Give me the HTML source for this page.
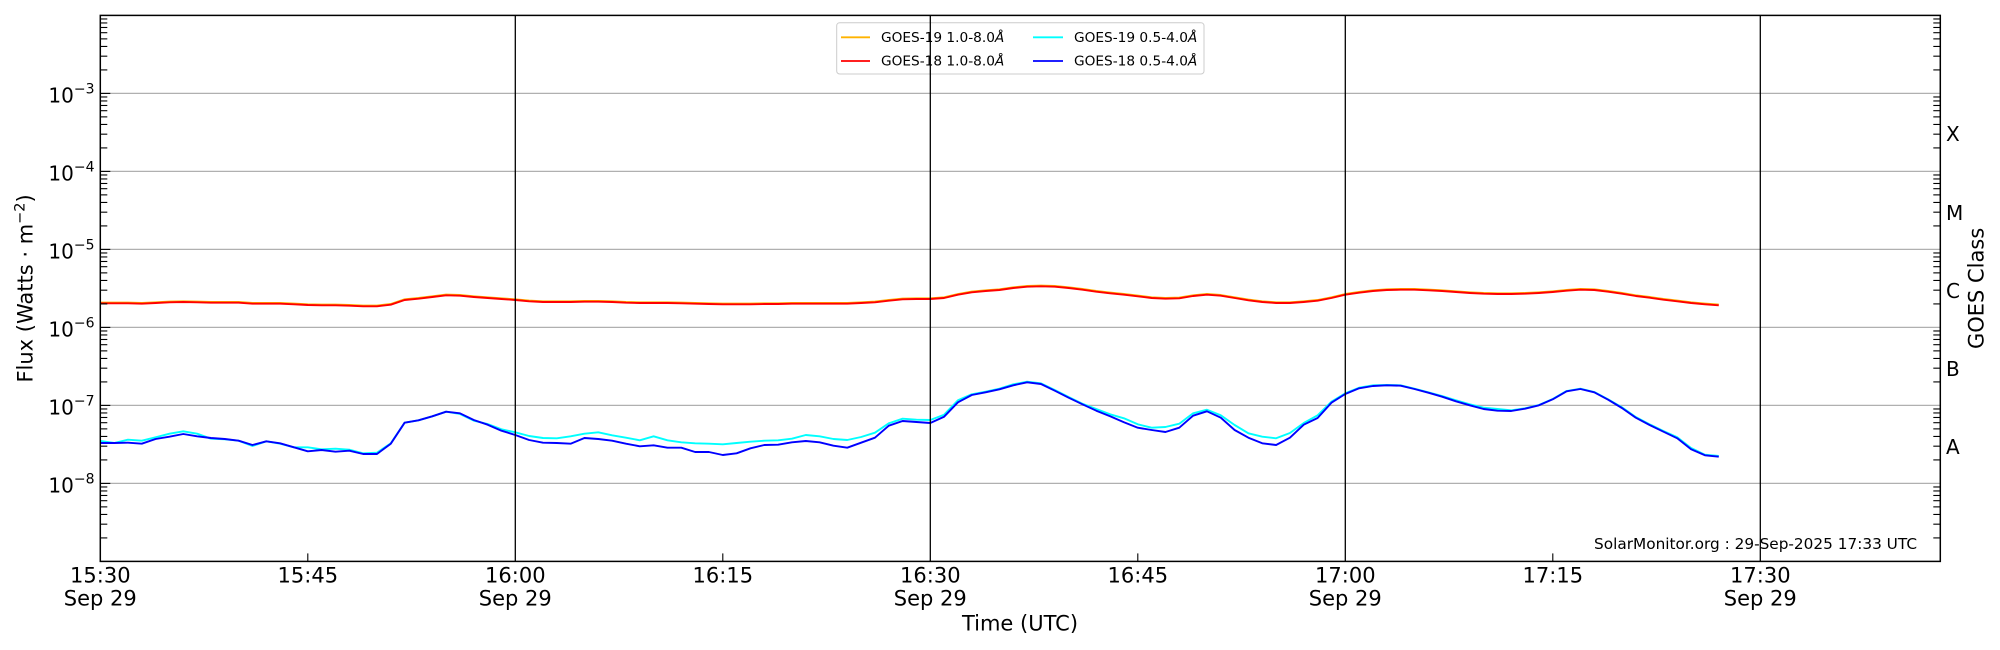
<!DOCTYPE html>
<html>
<head>
<meta charset="utf-8">
<style>
  html,body{margin:0;padding:0;background:#fff;}
  svg{display:block;}
  text{font-family:"DejaVu Sans","Liberation Sans",sans-serif;fill:#000;}
</style>
</head>
<body>
<svg width="2000" height="650" viewBox="0 0 2000 650" xmlns="http://www.w3.org/2000/svg">
  <defs>
    <g id="minL">
      <line x1="0" x2="7" y1="-23.48" y2="-23.48"/>
      <line x1="0" x2="7" y1="-37.22" y2="-37.22"/>
      <line x1="0" x2="7" y1="-46.96" y2="-46.96"/>
      <line x1="0" x2="7" y1="-54.52" y2="-54.52"/>
      <line x1="0" x2="7" y1="-60.70" y2="-60.70"/>
      <line x1="0" x2="7" y1="-65.92" y2="-65.92"/>
      <line x1="0" x2="7" y1="-70.44" y2="-70.44"/>
      <line x1="0" x2="7" y1="-74.43" y2="-74.43"/>
    </g>
  </defs>

  <rect x="0" y="0" width="2000" height="650" fill="#fff"/>

  <!-- gridlines -->
  <g stroke="#b0b0b0" stroke-width="1.2">
    <line x1="100.3" x2="1940.3" y1="93.4" y2="93.4"/>
    <line x1="100.3" x2="1940.3" y1="171.4" y2="171.4"/>
    <line x1="100.3" x2="1940.3" y1="249.4" y2="249.4"/>
    <line x1="100.3" x2="1940.3" y1="327.4" y2="327.4"/>
    <line x1="100.3" x2="1940.3" y1="405.4" y2="405.4"/>
    <line x1="100.3" x2="1940.3" y1="483.4" y2="483.4"/>
  </g>

  <!-- data series -->
  <g transform="translate(100.3,0) scale(13.833,1)" fill="none" stroke-linejoin="round">
    <polyline stroke="#ffb300" stroke-width="1.9" vector-effect="non-scaling-stroke" transform="translate(0,-0.7)"
      points="0,303.3 1,303.3 2,303.3 3,303.7 4,303.0 5,302.3 6,302.0 7,302.3 8,302.7 9,302.7 10,302.7 11,303.7 12,303.7 13,303.7 14,304.3 15,305.0 16,305.3 17,305.3 18,305.7 19,306.3 20,306.3 21,304.7 22,300.0 23,298.7 24,297.0 25,295.3 26,295.7 27,297.0 28,298.0 29,299.0 30,300.0 31,301.3 32,302.0 33,302.0 34,302.0 35,301.7 36,301.7 37,302.0 38,302.7 39,303.0 40,303.0 41,303.0 42,303.3 43,303.7 44,304.0 45,304.3 46,304.3 47,304.3 48,304.0 49,304.0 50,303.7 51,303.7 52,303.7 53,303.7 54,303.7 55,303.0 56,302.3 57,300.7 58,299.3 59,299.0 60,299.0 61,298.0 62,294.7 63,292.3 64,291.0 65,290.0 66,288.0 67,286.7 68,286.3 69,286.7 70,288.0 71,289.7 72,291.7 73,293.3 74,294.7 75,296.3 76,298.0 77,298.7 78,298.3 79,296.0 80,294.7 81,295.7 82,298.0 83,300.3 84,302.0 85,303.0 86,303.0 87,302.0 88,300.7 89,298.0 90,294.7 91,292.7 92,291.0 93,290.0 94,289.7 95,289.7 96,290.3 97,291.0 98,292.0 99,293.0 100,293.7 101,294.0 102,294.0 103,293.7 104,293.0 105,292.0 106,290.7 107,289.7 108,290.0 109,291.7 110,293.7 111,296.0 112,297.7 113,299.7 114,301.3 115,303.0 116,304.3 117,305.3"/>
    <polyline stroke="#ff0000" stroke-width="1.9" vector-effect="non-scaling-stroke"
      points="0,303.3 1,303.3 2,303.3 3,303.7 4,303.0 5,302.3 6,302.0 7,302.3 8,302.7 9,302.7 10,302.7 11,303.7 12,303.7 13,303.7 14,304.3 15,305.0 16,305.3 17,305.3 18,305.7 19,306.3 20,306.3 21,304.7 22,300.0 23,298.7 24,297.0 25,295.3 26,295.7 27,297.0 28,298.0 29,299.0 30,300.0 31,301.3 32,302.0 33,302.0 34,302.0 35,301.7 36,301.7 37,302.0 38,302.7 39,303.0 40,303.0 41,303.0 42,303.3 43,303.7 44,304.0 45,304.3 46,304.3 47,304.3 48,304.0 49,304.0 50,303.7 51,303.7 52,303.7 53,303.7 54,303.7 55,303.0 56,302.3 57,300.7 58,299.3 59,299.0 60,299.0 61,298.0 62,294.7 63,292.3 64,291.0 65,290.0 66,288.0 67,286.7 68,286.3 69,286.7 70,288.0 71,289.7 72,291.7 73,293.3 74,294.7 75,296.3 76,298.0 77,298.7 78,298.3 79,296.0 80,294.7 81,295.7 82,298.0 83,300.3 84,302.0 85,303.0 86,303.0 87,302.0 88,300.7 89,298.0 90,294.7 91,292.7 92,291.0 93,290.0 94,289.7 95,289.7 96,290.3 97,291.0 98,292.0 99,293.0 100,293.7 101,294.0 102,294.0 103,293.7 104,293.0 105,292.0 106,290.7 107,289.7 108,290.0 109,291.7 110,293.7 111,296.0 112,297.7 113,299.7 114,301.3 115,303.0 116,304.3 117,305.3"/>
    <polyline stroke="#00ffff" stroke-width="1.9" vector-effect="non-scaling-stroke"
      points="0,441.0 1,443.0 2,439.7 3,440.7 4,437.3 5,433.7 6,431.3 7,433.7 8,438.7 9,439.3 10,440.7 11,446.0 12,441.3 13,443.7 14,447.3 15,447.3 16,449.3 17,448.7 18,449.7 19,453.3 20,452.7 21,443.3 22,422.7 23,420.3 24,416.3 25,411.7 26,414.0 27,420.7 28,424.0 29,429.3 30,432.3 31,436.0 32,438.0 33,438.3 34,436.3 35,433.7 36,432.3 37,435.3 38,437.7 39,440.3 40,436.3 41,440.3 42,442.3 43,443.3 44,443.7 45,444.3 46,443.0 47,441.7 48,440.7 49,440.3 50,438.7 51,435.0 52,436.3 53,439.0 54,440.0 55,437.0 56,432.7 57,423.3 58,418.7 59,419.7 60,420.0 61,414.7 62,400.3 63,394.3 64,391.7 65,388.7 66,384.3 67,381.7 68,383.3 69,390.0 70,397.0 71,403.7 72,409.0 73,414.3 74,418.3 75,424.3 76,427.7 77,427.0 78,423.7 79,413.3 80,409.7 81,415.3 82,425.0 83,433.3 84,436.7 85,438.3 86,433.0 87,423.0 88,415.3 89,401.7 90,393.3 91,387.7 92,385.3 93,385.0 94,385.3 95,388.7 96,392.3 97,396.0 98,400.3 99,404.3 100,407.7 101,409.0 102,410.3 103,408.3 104,405.0 105,399.0 106,391.0 107,388.7 108,392.0 109,399.3 110,407.3 111,417.0 112,424.3 113,431.0 114,437.3 115,448.0 116,454.7 117,456.0"/>
    <polyline stroke="#0000ff" stroke-width="1.9" vector-effect="non-scaling-stroke"
      points="0,443.0 1,443.0 2,442.7 3,443.7 4,439.0 5,436.7 6,434.0 7,436.3 8,438.0 9,439.0 10,440.7 11,445.0 12,441.3 13,443.3 14,447.3 15,451.3 16,450.0 17,451.7 18,450.7 19,454.0 20,454.0 21,443.7 22,422.7 23,420.3 24,416.3 25,411.7 26,413.3 27,420.0 28,424.7 29,430.7 30,435.0 31,440.0 32,442.7 33,443.0 34,443.7 35,438.0 36,439.0 37,440.7 38,443.7 39,446.3 40,445.3 41,447.7 42,447.7 43,452.0 44,452.0 45,455.0 46,453.3 47,448.3 48,445.0 49,444.7 50,442.3 51,441.0 52,442.3 53,445.7 54,447.7 55,442.7 56,437.7 57,425.7 58,421.0 59,422.0 60,423.0 61,416.7 62,402.3 63,395.0 64,392.3 65,389.3 66,385.3 67,382.3 68,384.0 69,390.7 70,397.7 71,404.3 72,410.7 73,416.3 74,422.3 75,427.7 76,430.0 77,432.0 78,427.7 79,415.7 80,411.3 81,417.7 82,430.0 83,437.7 84,443.3 85,445.0 86,437.7 87,424.7 88,418.0 89,402.7 90,394.0 91,388.3 92,386.0 93,385.3 94,385.7 95,389.0 96,392.7 97,396.7 98,401.3 99,405.3 100,409.0 101,410.7 102,411.0 103,408.7 104,405.3 105,399.3 106,391.3 107,389.0 108,392.3 109,399.7 110,408.0 111,417.7 112,425.0 113,431.7 114,438.3 115,449.3 116,455.3 117,456.7"/>
  </g>

  <!-- legend -->
  <rect x="836.7" y="22.7" width="367.3" height="51.3" rx="3" ry="3" fill="#fff" fill-opacity="0.8" stroke="#cccccc" stroke-width="1"/>
  <line x1="841" x2="870" y1="37.3" y2="37.3" stroke="#ffb300" stroke-width="1.8"/>
  <line x1="841" x2="870" y1="61" y2="61" stroke="#ff0000" stroke-width="1.8"/>
  <line x1="1033" x2="1063" y1="37.3" y2="37.3" stroke="#00ffff" stroke-width="1.8"/>
  <line x1="1033" x2="1063" y1="61" y2="61" stroke="#0000ff" stroke-width="1.8"/>
  <g font-size="13.7">
    <text x="881" y="41.8">GOES-19 1.0-8.0<tspan font-style="italic">Å</tspan></text>
    <text x="881" y="65.3">GOES-18 1.0-8.0<tspan font-style="italic">Å</tspan></text>
    <text x="1074" y="41.8">GOES-19 0.5-4.0<tspan font-style="italic">Å</tspan></text>
    <text x="1074" y="65.3">GOES-18 0.5-4.0<tspan font-style="italic">Å</tspan></text>
  </g>

  <!-- vertical lines -->
  <g stroke="#000" stroke-width="1.3">
    <line x1="515.3" x2="515.3" y1="15.4" y2="561.4"/>
    <line x1="930.3" x2="930.3" y1="15.4" y2="561.4"/>
    <line x1="1345.3" x2="1345.3" y1="15.4" y2="561.4"/>
    <line x1="1760.3" x2="1760.3" y1="15.4" y2="561.4"/>
  </g>

  <!-- ticks -->
  <g stroke="#000" stroke-width="1.1">
    <use href="#minL" transform="translate(100.3,93.4)"/>
    <use href="#minL" transform="translate(100.3,171.4)"/>
    <use href="#minL" transform="translate(100.3,249.4)"/>
    <use href="#minL" transform="translate(100.3,327.4)"/>
    <use href="#minL" transform="translate(100.3,405.4)"/>
    <use href="#minL" transform="translate(100.3,483.4)"/>
    <use href="#minL" transform="translate(100.3,561.4)"/>
    <use href="#minL" transform="translate(1940.3,93.4) scale(-1,1)"/>
    <use href="#minL" transform="translate(1940.3,171.4) scale(-1,1)"/>
    <use href="#minL" transform="translate(1940.3,249.4) scale(-1,1)"/>
    <use href="#minL" transform="translate(1940.3,327.4) scale(-1,1)"/>
    <use href="#minL" transform="translate(1940.3,405.4) scale(-1,1)"/>
    <use href="#minL" transform="translate(1940.3,483.4) scale(-1,1)"/>
    <use href="#minL" transform="translate(1940.3,561.4) scale(-1,1)"/>
    <line x1="100.3" x2="110.3" y1="93.4" y2="93.4"/>
    <line x1="100.3" x2="110.3" y1="171.4" y2="171.4"/>
    <line x1="100.3" x2="110.3" y1="249.4" y2="249.4"/>
    <line x1="100.3" x2="110.3" y1="327.4" y2="327.4"/>
    <line x1="100.3" x2="110.3" y1="405.4" y2="405.4"/>
    <line x1="100.3" x2="110.3" y1="483.4" y2="483.4"/>
    <line x1="307.8" x2="307.8" y1="561.4" y2="553.4"/>
    <line x1="722.8" x2="722.8" y1="561.4" y2="553.4"/>
    <line x1="1137.8" x2="1137.8" y1="561.4" y2="553.4"/>
    <line x1="1552.8" x2="1552.8" y1="561.4" y2="553.4"/>
  </g>

  <!-- axes frame -->
  <rect x="100.3" y="15.4" width="1840" height="546" fill="none" stroke="#000" stroke-width="1.5"/>

  <!-- y tick labels -->
  <g font-size="20" text-anchor="end">
    <text x="94.5" y="102.3">10<tspan dy="-9" font-size="14">−3</tspan></text>
    <text x="94.5" y="180.3">10<tspan dy="-9" font-size="14">−4</tspan></text>
    <text x="94.5" y="258.3">10<tspan dy="-9" font-size="14">−5</tspan></text>
    <text x="94.5" y="336.3">10<tspan dy="-9" font-size="14">−6</tspan></text>
    <text x="94.5" y="414.3">10<tspan dy="-9" font-size="14">−7</tspan></text>
    <text x="94.5" y="492.3">10<tspan dy="-9" font-size="14">−8</tspan></text>
  </g>

  <!-- x tick labels -->
  <g font-size="21" text-anchor="middle">
    <text x="100.3" y="582.5">15:30</text>
    <text x="100.3" y="605.5">Sep 29</text>
    <text x="307.8" y="582.5">15:45</text>
    <text x="515.3" y="582.5">16:00</text>
    <text x="515.3" y="605.5">Sep 29</text>
    <text x="722.8" y="582.5">16:15</text>
    <text x="930.3" y="582.5">16:30</text>
    <text x="930.3" y="605.5">Sep 29</text>
    <text x="1137.8" y="582.5">16:45</text>
    <text x="1345.3" y="582.5">17:00</text>
    <text x="1345.3" y="605.5">Sep 29</text>
    <text x="1552.8" y="582.5">17:15</text>
    <text x="1760.3" y="582.5">17:30</text>
    <text x="1760.3" y="605.5">Sep 29</text>
  </g>

  <!-- GOES class labels -->
  <g font-size="20">
    <text x="1946" y="141">X</text>
    <text x="1946" y="220">M</text>
    <text x="1946" y="298">C</text>
    <text x="1946" y="376">B</text>
    <text x="1946" y="454">A</text>
  </g>

  <!-- axis titles -->
  <text x="1020" y="630.5" font-size="21" text-anchor="middle">Time (UTC)</text>
  <text transform="translate(32.5,288.4) rotate(-90)" font-size="21" text-anchor="middle">Flux (Watts · m<tspan dy="-8" font-size="14.5">−2</tspan><tspan dy="8">)</tspan></text>
  <text transform="translate(1983.5,288.4) rotate(-90)" font-size="21" text-anchor="middle">GOES Class</text>

  <!-- watermark -->
  <text x="1917" y="549" font-size="15.3" text-anchor="end">SolarMonitor.org : 29-Sep-2025 17:33 UTC</text>
</svg>
</body>
</html>
